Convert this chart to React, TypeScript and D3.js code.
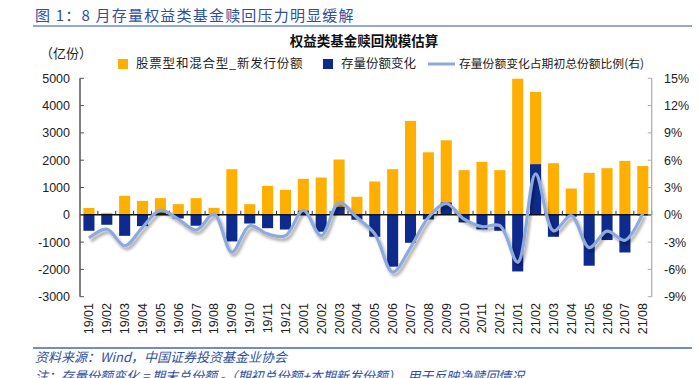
import React from "react";
import * as d3 from "d3";

const months = [
  "19/01", "19/02", "19/03", "19/04", "19/05", "19/06", "19/07", "19/08", "19/09", "19/10", "19/11", "19/12",
  "20/01", "20/02", "20/03", "20/04", "20/05", "20/06", "20/07", "20/08", "20/09", "20/10", "20/11", "20/12",
  "21/01", "21/02", "21/03", "21/04", "21/05", "21/06", "21/07", "21/08",
];
const newIssue = [
  250, 70, 695, 510, 610, 390, 610, 255, 1670, 390, 1060, 915,
  1317, 1365, 2025, 660, 1220, 1670, 3440, 2290, 2730, 1635, 1940, 1635,
  4985, 4500, 1890, 963, 1536, 1707, 1975, 1790,
];
const stockChange = [
  -585, -365, -770, -415, 80, -135, -400, -50, -975, -320, -490, -540,
  150, -620, 290, -180, -805, -1900, -1025, -170, 450, -280, -535, -585,
  -2075, 1853, -805, -70, -1865, -925, -1380, -20,
];
const ratio = [
  -2.56, -1.57, -3.4, -1.39, 0.51, -0.48, -1.68, 0.07, -4.1, -1.2, -2.1, -2.3,
  0.5, -2.3, 1.35, -0.3, -2.1, -6.3, -3.6, -0.3, 1.24, -0.48, -1.3, -1.2,
  -5.2, 4.5, -1.75, -0.1, -3.6, -1.8, -2.8, 0.15,
];
const leftTicks = [-3000, -2000, -1000, 0, 1000, 2000, 3000, 4000, 5000];
const rightTicks = [-9, -6, -3, 0, 3, 6, 9, 12, 15];

const CJK = "'Noto Sans CJK SC', 'Noto Sans', sans-serif";
const NUM = "'Liberation Sans', Arial, sans-serif";
const YELLOW = "#FFAF00";
const NAVY = "#0E2A8C";
const LINEC = "#8EAADC";
const TITLEBLUE = "#2F4F9C";

export default function App() {
  const W = 698, H = 378;
  const x0 = 80, x1 = 651.7, yTop = 78.3, yBot = 296.7;
  const band = d3.scaleBand<string>().domain(months).range([x0, x1]);
  const yL = d3.scaleLinear().domain([-3000, 5000]).range([yBot, yTop]);
  const yR = d3.scaleLinear().domain([-9, 15]).range([yBot, yTop]);
  const cx = (m: string) => (band(m) as number) + band.bandwidth() / 2;
  const bw = band.bandwidth() * 0.62;

  const line = d3
    .line<number>()
    .x((_, i) => cx(months[i]))
    .y((d) => yR(d))
    .curve(d3.curveCatmullRom.alpha(0.5));

  return (
    <svg
      width={W}
      height={H}
      style={{ position: "absolute", left: 0, top: 0, background: "#fff" }}
    >
      <defs>
        <filter id="sh" x="-10%" y="-30%" width="120%" height="160%">
          <feDropShadow dx="2" dy="3" stdDeviation="1.6" floodColor="#000" floodOpacity="0.35" />
        </filter>
      </defs>
      <rect x={0} y={0} width={W} height={H} fill="#fff" />

      {/* header */}
      <text x={35} y={21} fontFamily={CJK} fontSize={15} fill={TITLEBLUE} letterSpacing={1.2}>
        图 1：8 月存量权益类基金赎回压力明显缓解
      </text>
      <line x1={33} x2={692} y1={26} y2={26} stroke="#6F8CC6" strokeWidth={1.5} />

      <text x={364} y={46} textAnchor="middle" fontFamily={CJK} fontSize={13.5} fontWeight="bold" fill="#111">
        权益类基金赎回规模估算
      </text>
      <text x={40} y={58} fontFamily={CJK} fontSize={13} fill="#222">
        （亿份）
      </text>

      {/* legend */}
      <rect x={118} y={59} width={10} height={10} fill={YELLOW} />
      <text x={136} y={68} fontFamily={CJK} fontSize={12.5} fill="#222" letterSpacing={0.8}>
        股票型和混合型_新发行份额
      </text>
      <rect x={323} y={59} width={10} height={10} fill={NAVY} />
      <text x={341} y={68} fontFamily={CJK} fontSize={12.5} fill="#222">
        存量份额变化
      </text>
      <line x1={428} x2={455} y1={64} y2={64} stroke={LINEC} strokeWidth={3} />
      <text x={459} y={68} fontFamily={CJK} fontSize={11.8} fill="#222">
        存量份额变化占期初总份额比例(右)
      </text>

      {/* bars */}
      {months.map((m, i) => (
        <rect
          key={"y" + m}
          x={cx(m) - bw / 2}
          width={bw}
          y={Math.min(yL(newIssue[i]), yL(0))}
          height={Math.abs(yL(newIssue[i]) - yL(0))}
          fill={YELLOW}
        />
      ))}
      {months.map((m, i) => (
        <rect
          key={"b" + m}
          x={cx(m) - bw / 2}
          width={bw}
          y={Math.min(yL(stockChange[i]), yL(0))}
          height={Math.abs(yL(stockChange[i]) - yL(0))}
          fill={NAVY}
        />
      ))}

      {/* zero line with category ticks */}
      <line x1={x0} x2={x1} y1={yL(0)} y2={yL(0)} stroke="#111" strokeWidth={1.5} />
      {months.map((m) => (
        <line
          key={"t" + m}
          x1={(band(m) as number) + band.bandwidth()}
          x2={(band(m) as number) + band.bandwidth()}
          y1={yL(0)}
          y2={yL(0) - 4}
          stroke="#333"
          strokeWidth={1}
        />
      ))}

      {/* line */}
      <path d={line(ratio) || ""} fill="none" stroke={LINEC} strokeWidth={3.2} filter="url(#sh)" strokeLinejoin="round" />

      {/* left axis */}
      <line x1={x0} x2={x0} y1={yTop} y2={yBot} stroke="#555" strokeWidth={1.5} />
      {leftTicks.map((t) => (
        <g key={"l" + t}>
          <line x1={x0} x2={x0 + 4} y1={yL(t)} y2={yL(t)} stroke="#555" strokeWidth={1} />
          <text x={70} y={yL(t) + 4.5} textAnchor="end" fontFamily={NUM} fontSize={12.5} fill="#222">
            {t}
          </text>
        </g>
      ))}

      {/* right axis */}
      <line x1={x1} x2={x1} y1={yTop} y2={yBot} stroke="#AAA" strokeWidth={1.2} />
      {rightTicks.map((t) => (
        <g key={"r" + t}>
          <line x1={x1 - 4} x2={x1} y1={yR(t)} y2={yR(t)} stroke="#AAA" strokeWidth={1} />
          <text x={664} y={yR(t) + 4.5} fontFamily={NUM} fontSize={12.5} fill="#222">
            {t + "%"}
          </text>
        </g>
      ))}

      {/* x labels */}
      {months.map((m) => (
        <text
          key={"x" + m}
          transform={`translate(${cx(m) + 4.5},303) rotate(-90)`}
          textAnchor="end"
          fontFamily={NUM}
          fontSize={12.5}
          fill="#222"
        >
          {m}
        </text>
      ))}

      {/* footer */}
      <line x1={33} x2={692} y1={348} y2={348} stroke="#4A66A8" strokeWidth={1.5} />
      <text x={35} y={362} fontFamily={CJK} fontSize={13} fontStyle="italic" fill={TITLEBLUE}>
        资料来源：Wind，中国证券投资基金业协会
      </text>
      <text x={35} y={381} fontFamily={CJK} fontSize={13} fontStyle="italic" fill={TITLEBLUE}>
        注：存量份额变化 = 期末总份额 -（期初总份额+本期新发份额），用于反映净赎回情况
      </text>
    </svg>
  );
}
